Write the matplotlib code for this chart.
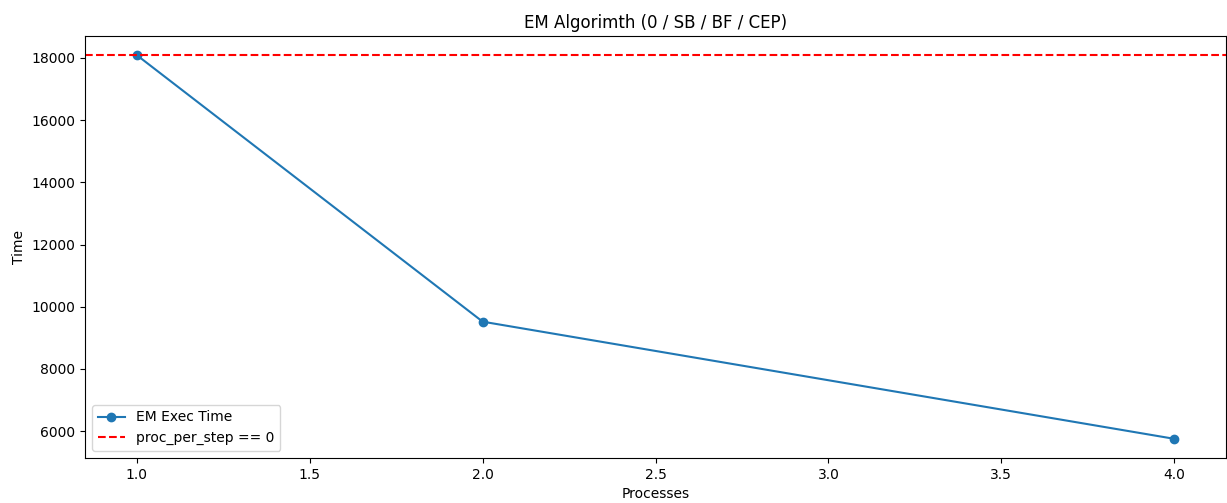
import matplotlib
matplotlib.use("Agg")
import matplotlib.pyplot as plt

processes = [1, 2, 4]
exec_times = [18085, 9520, 5755]
baseline = 18085

fig, ax = plt.subplots(figsize=(12.27, 5.03), dpi=100)
fig.subplots_adjust(left=0.0693, right=0.9992, top=0.9284, bottom=0.0895)
ax.plot(processes, exec_times, marker='o', label='EM Exec Time')
ax.axhline(baseline, color='red', linestyle='--', label='proc_per_step == 0')
ax.set_title('EM Algorimth (0 / SB / BF / CEP)')
ax.set_xlabel('Processes')
ax.set_ylabel('Time')
ax.legend(loc='lower left')
fig.savefig('out.png')
